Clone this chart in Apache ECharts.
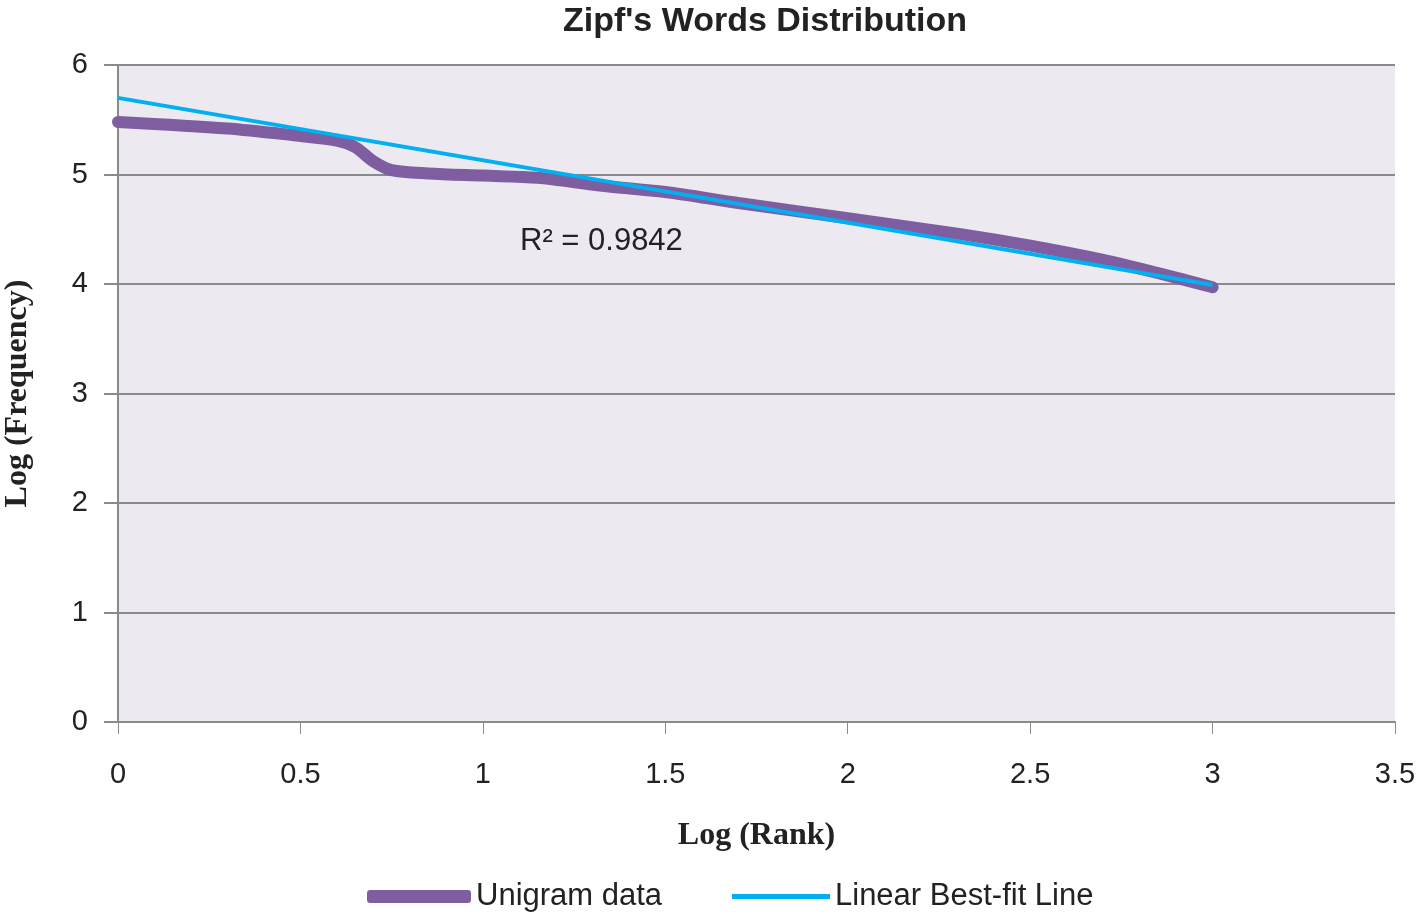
<!DOCTYPE html>
<html>
<head>
<meta charset="utf-8">
<script src="https://cdn.jsdelivr.net/npm/echarts@6/dist/echarts.min.js"></script>
<style>
html, body { margin: 0; padding: 0; background: #fff; }
#chart { width: 1418px; height: 915px; }
</style>
</head>
<body>
<div id="chart"></div>
<script>
var logRank = [0, 0.3, 0.477, 0.6, 0.65, 0.7, 0.75, 0.85, 1.0, 1.15, 1.32, 1.5, 1.7, 2.0, 2.3, 2.5, 2.7, 2.85, 3.0];
var logFreq = [5.48, 5.42, 5.36, 5.31, 5.25, 5.12, 5.04, 5.01, 4.99, 4.97, 4.90, 4.84, 4.74, 4.60, 4.46, 4.35, 4.22, 4.10, 3.97];
var fitX = [0, 3.0];
var fitY = [5.70, 3.99];
var rSquared = 'R\u00b2 = 0.9842';

var myChart = echarts.init(document.getElementById('chart'));

function pairs(xs, ys){
    return xs.map(function(x, i){ return [x, ys[i]]; });
}

var labelFont = '"Liberation Sans Narrow", "Liberation Sans", sans-serif';
var serifFont = '"Liberation Serif", "DejaVu Serif", serif';

myChart.setOption({
    animation: false,
    title: {
        text: "Zipf's Words Distribution",
        left: 760, top: 0, textAlign: 'center',
        textStyle: { fontFamily: labelFont, fontSize: 34, fontWeight: 'bold', color: '#222' }
    },
    grid: { left: 118, right: 23, top: 65, bottom: 193, show: true, backgroundColor: '#ECEAF0', borderWidth: 0, outerBoundsMode: 'none', containLabel: false },
    xAxis: {
        type: 'value', min: 0, max: 3.5, interval: 0.5,
        name: 'Log (Rank)', nameLocation: 'middle', nameGap: 98,
        nameTextStyle: { fontFamily: serifFont, fontSize: 32, fontWeight: 'bold', color: '#222' },
        axisLine: { lineStyle: { color: '#8a8a8a', width: 2 } },
        axisTick: { show: true, length: 12, lineStyle: { color: '#8a8a8a', width: 1 } },
        axisLabel: { margin: 38, fontFamily: labelFont, fontSize: 29, color: '#222' },
        splitLine: { show: false }
    },
    yAxis: {
        type: 'value', min: 0, max: 6, interval: 1,
        name: 'Log (Frequency)', nameLocation: 'middle', nameGap: 84,
        nameTextStyle: { fontFamily: serifFont, fontSize: 32, fontWeight: 'bold', color: '#222' },
        axisLine: { show: true, lineStyle: { color: '#8a8a8a', width: 2 } },
        axisTick: { show: true, length: 14, lineStyle: { color: '#8a8a8a', width: 2 } },
        axisLabel: { margin: 30, fontFamily: labelFont, fontSize: 29, color: '#222' },
        splitLine: { show: true, lineStyle: { color: '#8a8a8a', width: 2 } }
    },
    legend: [{
        data: [{ name: 'Unigram data', icon: 'roundRect' }],
        left: 362, top: 876, itemWidth: 104, itemHeight: 13, itemGap: 10,
        textStyle: { fontFamily: labelFont, fontSize: 31, color: '#222' }
    }, {
        data: [{ name: 'Linear Best-fit Line', icon: 'rect' }],
        left: 727, top: 876, itemWidth: 98, itemHeight: 5, itemGap: 14,
        textStyle: { fontFamily: labelFont, fontSize: 31, color: '#222' }
    }],
    graphic: [{
        type: 'text', left: 520, top: 226,
        style: { text: rSquared, fontFamily: labelFont, fontSize: 31, fill: '#222' }
    }],
    series: [{
        name: 'Unigram data', type: 'line', smooth: 0.3,
        data: pairs(logRank, logFreq), showSymbol: false,
        lineStyle: { color: '#7E5EA0', width: 12, cap: 'round' },
        itemStyle: { color: '#7E5EA0' }, z: 2
    }, {
        name: 'Linear Best-fit Line', type: 'line',
        data: pairs(fitX, fitY), showSymbol: false,
        lineStyle: { color: '#00B0F0', width: 4 },
        itemStyle: { color: '#00B0F0' }, z: 3
    }]
});

window.onresize = function(){
    myChart.resize();
};
</script>
</body>
</html>
